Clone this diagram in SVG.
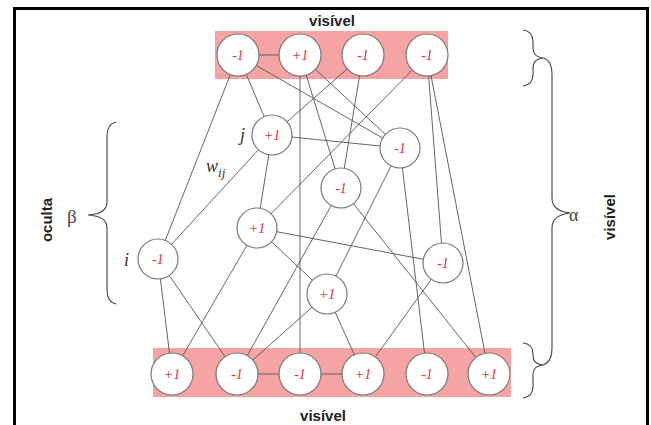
<svg xmlns="http://www.w3.org/2000/svg" width="651" height="425" viewBox="0 0 651 425">
<style>
.e{stroke:#555;stroke-width:0.9;fill:none}
.n{fill:#fff;stroke:#777;stroke-width:1.2}
.v{font-family:"Liberation Serif",serif;font-style:italic;font-size:14px;fill:#e5313b;text-anchor:middle}
.lb{font-family:"Liberation Sans",Arial,sans-serif;font-weight:bold;font-size:15px;fill:#222;text-anchor:middle}
.it{font-family:"Liberation Serif",serif;font-style:italic;fill:#333}
.gr{font-family:"Liberation Serif",serif;fill:#444}
.br{stroke:#444;stroke-width:1.1;fill:none}
.band{fill:#f6a3a3}
</style>
<rect width="651" height="425" fill="#fff"/>
<rect x="14.5" y="8.5" width="633" height="430" fill="none" stroke="#000" stroke-width="3"/>
<rect class="band" x="215" y="31" width="233" height="48"/>
<rect class="band" x="153" y="348" width="358" height="49"/>
<g id="connectors">
<line class="e" x1="238" y1="55" x2="300" y2="55"/>
<line class="e" x1="237" y1="374" x2="300" y2="374"/>
<line class="e" x1="300" y1="374" x2="363" y2="374"/>
<line class="e" x1="238" y1="55" x2="158" y2="259"/>
<line class="e" x1="238" y1="55" x2="272" y2="135"/>
<line class="e" x1="238" y1="55" x2="400" y2="148"/>
<line class="e" x1="300" y1="55" x2="300" y2="374"/>
<line class="e" x1="300" y1="55" x2="341" y2="188"/>
<line class="e" x1="300" y1="55" x2="400" y2="148"/>
<line class="e" x1="363" y1="55" x2="272" y2="135"/>
<line class="e" x1="363" y1="55" x2="341" y2="188"/>
<line class="e" x1="427" y1="55" x2="257" y2="228"/>
<line class="e" x1="427" y1="55" x2="443" y2="263"/>
<line class="e" x1="427" y1="55" x2="489" y2="374"/>
<line class="e" x1="158" y1="259" x2="272" y2="135"/>
<line class="e" x1="158" y1="259" x2="172" y2="374"/>
<line class="e" x1="158" y1="259" x2="237" y2="374"/>
<line class="e" x1="272" y1="135" x2="400" y2="148"/>
<line class="e" x1="272" y1="135" x2="257" y2="228"/>
<line class="e" x1="257" y1="228" x2="443" y2="263"/>
<line class="e" x1="257" y1="228" x2="327" y2="294"/>
<line class="e" x1="257" y1="228" x2="172" y2="374"/>
<line class="e" x1="341" y1="188" x2="237" y2="374"/>
<line class="e" x1="341" y1="188" x2="489" y2="374"/>
<line class="e" x1="400" y1="148" x2="327" y2="294"/>
<line class="e" x1="400" y1="148" x2="427" y2="374"/>
<line class="e" x1="443" y1="263" x2="363" y2="374"/>
<line class="e" x1="327" y1="294" x2="237" y2="374"/>
<line class="e" x1="327" y1="294" x2="363" y2="374"/>
</g>
<g id="v1"><circle class="n" cx="238" cy="55" r="21"/><text class="v" x="238" y="60">-1</text></g>
<g id="v2"><circle class="n" cx="300" cy="55" r="21"/><text class="v" x="300" y="60">+1</text></g>
<g id="v3"><circle class="n" cx="363" cy="55" r="21"/><text class="v" x="363" y="60">-1</text></g>
<g id="v4"><circle class="n" cx="427" cy="55" r="21"/><text class="v" x="427" y="60">-1</text></g>
<g id="hj"><circle class="n" cx="272" cy="135" r="20"/><text class="v" x="272" y="140">+1</text></g>
<g id="hr"><circle class="n" cx="400" cy="148" r="20"/><text class="v" x="400" y="153">-1</text></g>
<g id="hm"><circle class="n" cx="341" cy="188" r="20"/><text class="v" x="341" y="193">-1</text></g>
<g id="hp"><circle class="n" cx="257" cy="228" r="20"/><text class="v" x="257" y="233">+1</text></g>
<g id="hi"><circle class="n" cx="158" cy="259" r="20"/><text class="v" x="158" y="264">-1</text></g>
<g id="hq"><circle class="n" cx="443" cy="263" r="20"/><text class="v" x="443" y="268">-1</text></g>
<g id="hl"><circle class="n" cx="327" cy="294" r="20"/><text class="v" x="327" y="299">+1</text></g>
<g id="b1"><circle class="n" cx="172" cy="374" r="21"/><text class="v" x="172" y="379">+1</text></g>
<g id="b2"><circle class="n" cx="237" cy="374" r="21"/><text class="v" x="237" y="379">-1</text></g>
<g id="b3"><circle class="n" cx="300" cy="374" r="21"/><text class="v" x="300" y="379">-1</text></g>
<g id="b4"><circle class="n" cx="363" cy="374" r="21"/><text class="v" x="363" y="379">+1</text></g>
<g id="b5"><circle class="n" cx="427" cy="374" r="21"/><text class="v" x="427" y="379">-1</text></g>
<g id="b6"><circle class="n" cx="489" cy="374" r="21"/><text class="v" x="489" y="379">+1</text></g>
<g id="labels">
<text class="lb" x="332" y="26">visível</text>
<text class="lb" x="323" y="421">visível</text>
<text class="lb" transform="translate(52,220) rotate(-90)">oculta</text>
<text class="lb" transform="translate(615,217) rotate(-90)">visível</text>
<text class="gr" x="67" y="223" font-size="19">β</text>
<text class="gr" x="569" y="221" font-size="18">α</text>
<text class="it" x="240" y="141" font-size="18">j</text>
<text class="it" x="124" y="266" font-size="18">i</text>
<text class="it" x="206" y="172" font-size="18">w<tspan font-size="13" dy="5">ij</tspan></text>
</g>
<g id="braces">
<path class="br" d="M116,122 Q107,124 107,136 L107,202 Q107,214 88,215 Q107,216 107,228 L107,290 Q107,302 116,304"/>
<path class="br" d="M523,30 Q533,31 533,42 L533,48 Q533,57 543,58 Q533,59 533,68 L533,74 Q533,85 523,86"/>
<path class="br" d="M543,58 Q552,60 552,75 L552,198 Q552,211 570,213 Q552,215 552,228 L552,348 Q552,362 543,365"/>
<path class="br" d="M523,343 Q533,344 533,354 L533,356 Q533,364 543,365 Q533,366 533,374 L533,386 Q533,397 523,398"/>
</g>
</svg>
